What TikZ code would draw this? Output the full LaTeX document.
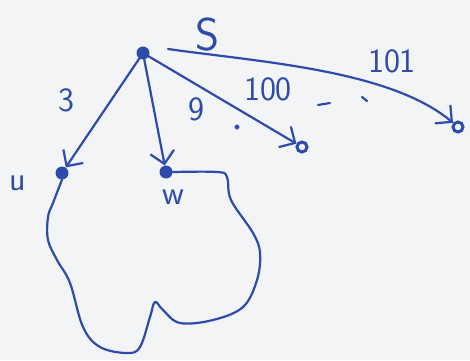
\documentclass[tikz,border=0pt]{standalone}
\usetikzlibrary{arrows.meta}
\definecolor{ink}{RGB}{45,75,170}
\definecolor{paper}{RGB}{243,244,246}
\begin{document}
\begin{tikzpicture}[x=1pt,y=-1pt,
  ink/.style={draw=ink, line width=2.2pt, line cap=round, line join=round},
  vtx/.style={circle, fill=ink, inner sep=0pt, minimum size=13pt},
  endv/.style={circle, draw=ink, line width=3pt, inner sep=0pt, minimum size=10pt},
  lbl/.style={text=ink, font=\sffamily\fontsize{34}{34}\selectfont, inner sep=0pt},
  arr/.style={ink, -{Straight Barb[length=12pt,width=24pt,line width=2.2pt]}}]
\fill[paper] (0,0) rectangle (470,360);
\useasboundingbox (0,0) rectangle (470,360);
\node[vtx] (s) at (143,53) {};
\node[vtx] (u) at (62,173) {};
\node[vtx] (w) at (166,172) {};
\node[endv] (a) at (302,147) {};
\node[endv] (b) at (458,127) {};
\node[lbl, font=\sffamily\fontsize{46}{46}\selectfont] (ls) at (208,35) {S};
\node[lbl] (lu) at (18,183) {u};
\node[lbl] (lw) at (173,197) {w};
\node[lbl] (l3) at (66,100) {3};
\node[lbl] (l9) at (196,109) {9};
\node[lbl] (l100) at (268,89) {100};
\node[lbl] (l101) at (392,61) {101};
\draw[arr] (s) -- (u);
\draw[arr] (s) -- (w);
\draw[arr] (s) -- (a);
\draw[arr] (s) ++(25,-4) .. controls (260,62) and (390,70) .. (b);
\draw[ink] (318,105) -- (330,103);
\draw[ink] (362,97) -- (367,101);
\fill[ink] (237,127) circle (1.5pt);
\draw[ink] plot[smooth, tension=0.6] coordinates {(w.east) (217,172) (227,177) (231,200) (253,233) (260,253) (257,280) (243,307) (213,320) (180,323) (163,310) (155,302) (150,317) (140,347) (127,353) (100,347) (83,327) (70,283) (57,260) (48,240) (48,217) (53,203) (u.south)};
\end{tikzpicture}
\end{document}
